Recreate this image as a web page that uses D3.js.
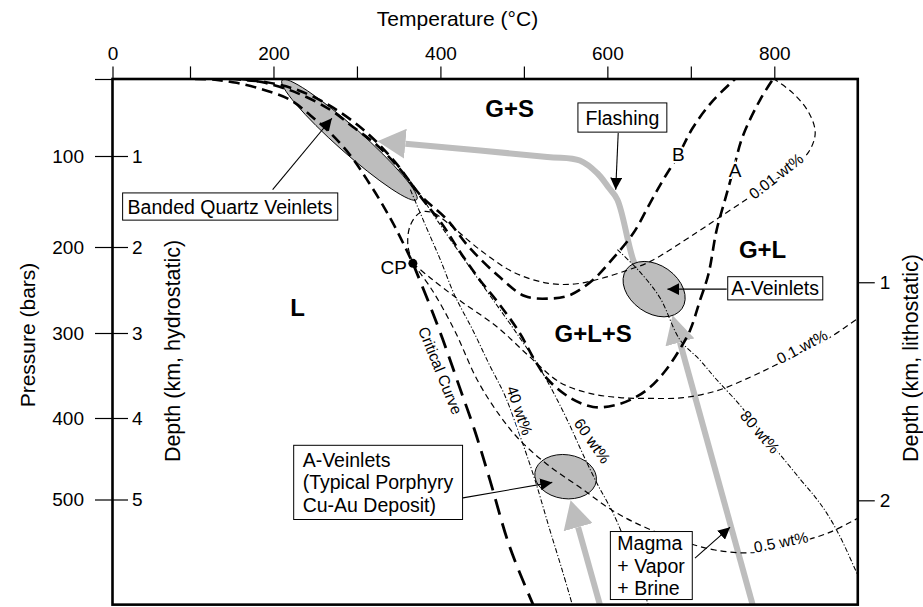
<!DOCTYPE html>
<html>
<head>
<meta charset="utf-8">
<script src="https://cdn.jsdelivr.net/npm/d3@7"></script>
<style>
  body { margin: 0; background: #fff; }
  svg text { font-family: "Liberation Sans", Arial, Helvetica, sans-serif; fill: #000; }
</style>
</head>
<body>
<svg id="chart" width="923" height="607"></svg>
<script>
// ---- axis ticks ----
const tempTicks = [0, 100, 200, 300, 400, 500, 600, 700, 800];
const tempLabels = [0, 200, 400, 600, 800];
const pressureTicks = [0, 100, 200, 300, 400, 500];
const hydroDepthKm = [1, 2, 3, 4, 5];
const HYDRO_BARS_PER_KM = 100;
const lithoDepthKm = [1, 2];
const lithoBars = [241, 501];
const T_MAX = 900, P_MAX = 629;

// ---- curves, [temperature degC, pressure bars] ----
const boilingCurve = [[106, 0], [130, 1], [156, 5], [188, 14], [220, 27], [244, 47], [268, 70],
  [292, 99], [312, 126], [331, 154], [349, 184], [367, 219]];
const criticalPoint = [367, 219];
const criticalCurve = [[367, 219], [385, 262], [403, 308], [423, 364], [441, 415], [459, 475],
  [483, 558], [511, 629]];
const curveA = [[160, 0], [190, 5], [228, 18], [268, 40], [295, 62], [324, 86], [352, 115],
  [379, 148], [403, 176], [423, 205], [447, 238], [471, 267], [495, 300], [513, 332], [529, 355],
  [555, 376], [583, 387], [609, 385], [633, 376], [651, 364], [669, 345], [685, 322], [699, 297],
  [711, 262], [721, 232], [731, 181], [741, 148], [751, 115], [762, 75], [783, 27], [798, 1]];
const curveB = [[148, 0], [190, 4], [228, 14], [268, 35], [310, 68], [346, 107], [376, 143],
  [408, 170], [435, 201], [471, 235], [501, 257], [529, 260], [555, 256], [583, 238], [607, 213],
  [631, 185], [651, 152], [667, 126], [685, 99], [702, 64], [725, 30], [753, 0]];
const vapor001 = [[367, 219], [361, 198], [364, 176], [376, 162], [390, 162], [408, 173],
  [447, 203], [487, 229], [528, 242], [561, 243], [591, 237], [624, 227], [651, 217], [707, 184],
  [743, 162], [771, 145], [795, 130], [819, 115], [841, 95], [849, 70], [841, 43], [822, 18], [801, 1]];
const vapor01 = [[367, 219], [388, 236], [423, 262], [468, 293], [507, 328], [543, 358],
  [579, 371], [615, 376], [651, 377], [691, 376], [731, 368], [771, 352], [801, 338], [837, 320],
  [867, 305], [900, 283]];
const vapor05 = [[367, 219], [390, 250], [417, 297], [444, 355], [471, 397], [495, 427],
  [528, 457], [567, 485], [607, 514], [647, 535], [687, 550], [729, 562], [777, 565], [831, 552],
  [867, 540], [900, 523]];
const liquid40 = [[364, 137], [382, 176], [400, 215], [417, 256], [439, 297], [459, 338],
  [477, 373], [495, 421], [513, 475], [531, 537], [546, 587], [558, 629]];
const liquid60 = [[376, 143], [400, 176], [429, 215], [459, 256], [489, 297], [517, 338],
  [537, 373], [555, 409], [571, 445], [588, 481], [607, 517], [624, 558], [643, 611], [649, 629]];
const liquid80 = [[612, 203], [639, 229], [663, 259], [687, 308], [711, 332], [731, 355],
  [759, 385], [783, 416], [807, 445], [831, 475], [849, 497], [863, 517], [879, 546], [900, 593]];

// ---- fluid paths (grey arrows) ----
const flashingPath = [[645, 244], [631, 215], [612, 148], [601, 134], [588, 119], [567, 105],
  [528, 101], [358, 84]];
const ascentPorphyry = [[591, 629], [565, 534]];
const ascentMagma = [[774, 629], [687, 311]];

// ---- vein fields ----
const bandedCenter = [291, 79];
const aVeinUpperCenter = [656, 249];
const aVeinLowerCenter = [550, 472];

// ---- annotations ----
const regionLabels = [
  { text: 'G+S', t: 483, p: 38 },
  { text: 'G+L', t: 786, p: 203 },
  { text: 'G+L+S', t: 583, p: 300 },
  { text: 'L', t: 229, p: 270 }
];
const curveLabels = [
  { text: 'B', t: 685, p: 97, rot: 0, size: 19 },
  { text: 'A', t: 753, p: 116, rot: 0, size: 19 },
  { text: 'Critical Curve', t: 400, p: 344, rot: 68, size: 15.5 },
  { text: '40 wt%', t: 495, p: 391, rot: 71, size: 15.5 },
  { text: '60 wt%', t: 582, p: 428, rot: 55, size: 15.5 },
  { text: '80 wt%', t: 783, p: 417, rot: 49.5, size: 15.5 },
  { text: '0.01 wt%', t: 802, p: 122, rot: -38, size: 15.5 },
  { text: '0.1 wt%', t: 833, p: 316, rot: -28, size: 15.5 },
  { text: '0.5 wt%', t: 808, p: 552, rot: -11, size: 15.5 }
];
const pointers = [
  { from: [199, 137], to: [270, 51] },
  { from: [613, 70], to: [610, 137] },
  { from: [743, 249], to: [672, 249] },
  { from: [427, 498], to: [534, 479] },
  { from: [705, 572], to: [747, 534] }
];

const svg = d3.select('#chart');
const x = d3.scaleLinear().domain([0, 100, 800]).range([112.5, 190, 774.3]);
const y = d3.scaleLinear().domain(pressureTicks).range([79, 156, 247, 333, 418, 499.5]);

const defs = svg.append('defs');
defs.append('clipPath').attr('id', 'plotClip')
  .append('rect')
  .attr('x', x(0)).attr('y', y(0))
  .attr('width', x(T_MAX) - x(0)).attr('height', y(P_MAX) - y(0));

defs.append('marker').attr('id', 'headBlack')
  .attr('markerUnits', 'userSpaceOnUse')
  .attr('viewBox', '0 0 12 12').attr('refX', 12).attr('refY', 6)
  .attr('markerWidth', 12).attr('markerHeight', 12).attr('orient', 'auto')
  .append('path').attr('d', 'M0,0L12,6L0,12Z').attr('fill', '#000');

defs.append('marker').attr('id', 'headGrey')
  .attr('markerUnits', 'userSpaceOnUse')
  .attr('viewBox', '0 0 28 30').attr('refX', 0).attr('refY', 15)
  .attr('markerWidth', 28).attr('markerHeight', 30).attr('orient', 'auto')
  .append('path').attr('d', 'M0,0L28,15L0,30Z').attr('fill', '#bdbdbd');

const line = d3.line()
  .x(d => x(d[0]))
  .y(d => y(d[1]))
  .curve(d3.curveCatmullRom.alpha(0.5));

const plot = svg.append('g').attr('clip-path', 'url(#plotClip)');

// vein fields
const veins = [
  { c: bandedCenter, rx: 90, ry: 12.5, rot: 41.6 },
  { c: aVeinUpperCenter, rx: 34, ry: 24, rot: 35 },
  { c: aVeinLowerCenter, rx: 31, ry: 22, rot: 8 }
];

// grey fluid paths
[flashingPath, ascentPorphyry, ascentMagma].forEach(path => {
  plot.append('path')
    .attr('d', line(path))
    .attr('fill', 'none')
    .attr('stroke', '#bdbdbd')
    .attr('stroke-width', 6)
    .attr('marker-end', 'url(#headGrey)');
});

plot.selectAll('ellipse.vein')
  .data(veins)
  .enter()
  .append('ellipse')
  .attr('class', 'vein')
  .attr('rx', d => d.rx)
  .attr('ry', d => d.ry)
  .attr('transform', d => `translate(${x(d.c[0])},${y(d.c[1])}) rotate(${d.rot})`)
  .attr('fill', '#bdbdbd')
  .attr('stroke', '#000')
  .attr('stroke-width', 0.9);

const curves = [
  { pts: vapor001, w: 1.2, dash: '6,4' },
  { pts: vapor01, w: 1.2, dash: '6,4' },
  { pts: vapor05, w: 1.2, dash: '6,4' },
  { pts: liquid40, w: 1.05, dash: '5,2,1.2,2' },
  { pts: liquid60, w: 1.05, dash: '5,2,1.2,2' },
  { pts: liquid80, w: 1.05, dash: '5,2,1.2,2' },
  { pts: boilingCurve, w: 2.6, dash: '11,6' },
  { pts: curveB, w: 2.6, dash: '11,6' },
  { pts: curveA, w: 2.6, dash: '11,6' },
  { pts: criticalCurve, w: 2.8, dash: '16,9' }
];

plot.selectAll('path.curve')
  .data(curves)
  .enter()
  .append('path')
  .attr('class', 'curve')
  .attr('d', d => line(d.pts))
  .attr('fill', 'none')
  .attr('stroke', '#000')
  .attr('stroke-width', d => d.w)
  .attr('stroke-dasharray', d => d.dash);

plot.append('circle')
  .attr('cx', x(criticalPoint[0]))
  .attr('cy', y(criticalPoint[1]))
  .attr('r', 4.5)
  .attr('fill', '#000');

// frame
svg.append('rect')
  .attr('x', x(0)).attr('y', y(0))
  .attr('width', x(T_MAX) - x(0)).attr('height', y(P_MAX) - y(0))
  .attr('fill', 'none')
  .attr('stroke', '#000')
  .attr('stroke-width', 2.6);

// axes
const styleAxis = g => {
  g.select('.domain').remove();
  g.attr('font-size', 19).attr('font-family', null);
  g.selectAll('line').attr('stroke-width', 1.2);
};

svg.append('g')
  .attr('transform', `translate(0,${y(0)})`)
  .call(d3.axisTop(x).tickValues(tempTicks).tickSize(12.6).tickPadding(6)
    .tickFormat(d => tempLabels.includes(d) ? d : ''))
  .call(styleAxis);

svg.append('g')
  .attr('transform', `translate(${x(0)},0)`)
  .call(d3.axisLeft(y).tickValues(pressureTicks).tickSize(17.5).tickPadding(11)
    .tickFormat(d => d === 0 ? '' : d))
  .call(styleAxis);

const yHydro = y.copy().domain(y.domain().map(p => p / HYDRO_BARS_PER_KM));
svg.append('g')
  .attr('transform', `translate(${x(0)},0)`)
  .call(d3.axisRight(yHydro).tickValues(hydroDepthKm).tickSize(15.5).tickPadding(4)
    .tickFormat(d3.format('d')))
  .call(styleAxis);

const yLitho = d3.scaleLinear().domain(lithoDepthKm).range(lithoBars.map(y));
svg.append('g')
  .attr('transform', `translate(${x(T_MAX)},0)`)
  .call(d3.axisRight(yLitho).tickValues(lithoDepthKm).tickSize(17).tickPadding(5)
    .tickFormat(d3.format('d')))
  .call(styleAxis);

// axis titles
svg.append('text')
  .attr('x', 457.5).attr('y', 26)
  .attr('text-anchor', 'middle')
  .attr('font-size', 21)
  .text('Temperature (°C)');

svg.append('text')
  .attr('transform', 'translate(35,335) rotate(-90)')
  .attr('text-anchor', 'middle')
  .attr('font-size', 21)
  .text('Pressure (bars)');

svg.append('text')
  .attr('transform', 'translate(180,351) rotate(-90)')
  .attr('text-anchor', 'middle')
  .attr('font-size', 21.5)
  .text('Depth (km, hydrostatic)');

svg.append('text')
  .attr('transform', 'translate(918,358) rotate(-90)')
  .attr('text-anchor', 'middle')
  .attr('font-size', 21.5)
  .text('Depth (km, lithostatic)');

// region labels
svg.selectAll('text.region')
  .data(regionLabels)
  .enter()
  .append('text')
  .attr('class', 'region')
  .attr('x', d => x(d.t))
  .attr('y', d => y(d.p))
  .attr('dy', '0.36em')
  .attr('text-anchor', 'middle')
  .attr('font-size', 24)
  .attr('font-weight', 'bold')
  .text(d => d.text);

svg.append('text')
  .attr('x', x(360)).attr('y', y(224))
  .attr('dy', '0.36em')
  .attr('text-anchor', 'end')
  .attr('font-size', 19)
  .text('CP');

// curve labels with a white halo that breaks the line under them
svg.selectAll('text.curvelabel')
  .data(curveLabels)
  .enter()
  .append('text')
  .attr('class', 'curvelabel')
  .attr('transform', d => `translate(${x(d.t)},${y(d.p)}) rotate(${d.rot})`)
  .attr('dy', '0.36em')
  .attr('text-anchor', 'middle')
  .attr('font-size', d => d.size)
  .attr('stroke', '#fff')
  .attr('stroke-width', 4)
  .attr('paint-order', 'stroke')
  .text(d => d.text);

// pointer arrows
svg.selectAll('line.pointer')
  .data(pointers)
  .enter()
  .append('line')
  .attr('class', 'pointer')
  .attr('x1', d => x(d.from[0])).attr('y1', d => y(d.from[1]))
  .attr('x2', d => x(d.to[0])).attr('y2', d => y(d.to[1]))
  .attr('stroke', '#000')
  .attr('stroke-width', 1.1)
  .attr('marker-end', 'url(#headBlack)');

// boxed notes
const boxedText = (lines, t, p, opt) => {
  const g = svg.append('g');
  const txt = g.append('text')
    .attr('font-size', 19.5)
    .attr('text-anchor', opt.center ? 'middle' : 'start');
  lines.forEach((s, i) => {
    txt.append('tspan')
      .attr('x', x(t))
      .attr('y', y(p) + i * 22.5)
      .attr('dy', opt.center ? '0.36em' : 0)
      .text(s);
  });
  const bb = txt.node().getBBox();
  g.insert('rect', 'text')
    .attr('x', bb.x - opt.px).attr('y', bb.y - opt.py)
    .attr('width', bb.width + 2 * opt.px).attr('height', bb.height + 2 * opt.py)
    .attr('fill', '#fff')
    .attr('stroke', '#000')
    .attr('stroke-width', 1);
};

boxedText(['Banded Quartz Veinlets'], 148, 155.5, { center: true, px: 5, py: 2.6 });
boxedText(['Flashing'], 618, 50, { center: true, px: 7.6, py: 3.6 });
boxedText(['A-Veinlets'], 801, 248, { center: true, px: 3.5, py: 0.6 });
boxedText(['A-Veinlets', '(Typical Porphyry', 'Cu-Au Deposit)'], 235, 460, { px: 9, py: 3.6 });
boxedText(['Magma', '+ Vapor', '+ Brine'], 612, 562, { px: 7, py: 0.5 });
</script>
</body>
</html>
